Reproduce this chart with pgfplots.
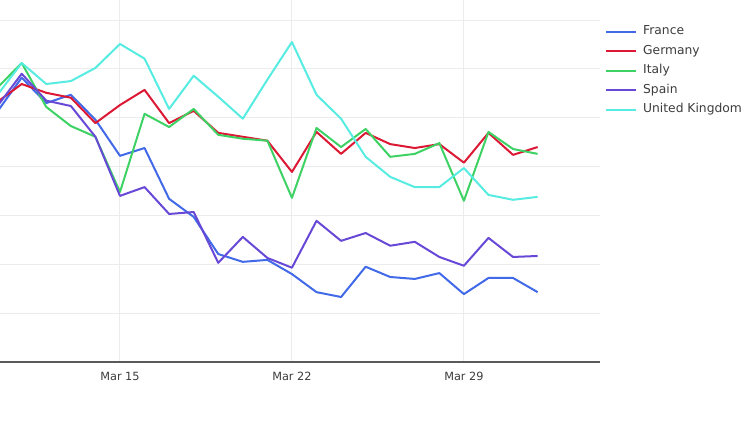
\documentclass[border=0pt]{standalone}
\usepackage{pgfplots}
\pgfplotsset{compat=1.18}
\usepackage{fontspec}
\setmainfont{DejaVu Sans}
\definecolor{cFr}{RGB}{65,105,232}
\definecolor{cDe}{RGB}{220,24,52}
\definecolor{cIt}{RGB}{62,210,100}
\definecolor{cEs}{RGB}{104,72,215}
\definecolor{cUk}{RGB}{86,236,226}
\definecolor{gridc}{RGB}{236,236,236}
\definecolor{axc}{RGB}{90,90,90}
\definecolor{tickc}{RGB}{60,60,60}
\begin{document}
\begin{tikzpicture}
\path[use as bounding box] (0pt,-60pt) rectangle (750pt,362pt);
\begin{axis}[
  at={(0pt,0pt)}, anchor=south west,
  scale only axis, width=600pt, height=362pt,
  xmin=10.116, xmax=34.54, ymin=0, ymax=7.41,
  xtick={15,22,29}, xticklabels={Mar 15,Mar 22,Mar 29},
  ytick={1,2,3,4,5,6,7}, yticklabels={},
  major tick length=0pt,
  xmajorgrids, ymajorgrids,
  grid style={gridc, line width=1pt},
  axis x line*=bottom, axis y line*=left,
  y axis line style={draw=none},
  x axis line style={axc, line width=1.6pt},
  xticklabel style={font=\fontsize{11.3}{13}\selectfont, text=tickc, yshift=-7pt},
  legend style={at={(1.0033,0.935)}, anchor=north west, draw=none, fill=none,
    font=\fontsize{12.3}{14}\selectfont, text=tickc,
    nodes={inner sep=0pt, text height=9pt, text depth=3pt},
    row sep=7.5pt, column sep=6pt},
  legend cell align=left,
  legend image code/.code={\draw[#1, line width=2pt] (0pt,0pt) -- (30pt,0pt);},
  every axis plot/.append style={line width=2pt, line join=round},
]
\addplot[cFr] coordinates {(10,5.12)(11,5.82)(12,5.30)(13,5.47)(14,4.96)(15,4.22)(16,4.38)(17,3.34)(18,2.97)(19,2.21)(20,2.05)(21,2.09)(22,1.80)(23,1.43)(24,1.33)(25,1.95)(26,1.74)(27,1.70)(28,1.82)(29,1.39)(30,1.72)(31,1.72)(32,1.43)};
\addlegendentry{France}
\addplot[cDe] coordinates {(10,5.32)(11,5.69)(12,5.51)(13,5.41)(14,4.89)(15,5.26)(16,5.57)(17,4.89)(18,5.14)(19,4.69)(20,4.61)(21,4.53)(22,3.89)(23,4.71)(24,4.26)(25,4.69)(26,4.46)(27,4.38)(28,4.46)(29,4.08)(30,4.69)(31,4.24)(32,4.40)};
\addlegendentry{Germany}
\addplot[cIt] coordinates {(10,5.61)(11,6.12)(12,5.22)(13,4.83)(14,4.61)(15,3.48)(16,5.08)(17,4.81)(18,5.18)(19,4.65)(20,4.57)(21,4.53)(22,3.36)(23,4.79)(24,4.40)(25,4.77)(26,4.20)(27,4.26)(28,4.48)(29,3.30)(30,4.71)(31,4.36)(32,4.26)};
\addlegendentry{Italy}
\addplot[cEs] coordinates {(10,5.23)(11,5.90)(12,5.35)(13,5.24)(14,4.61)(15,3.40)(16,3.58)(17,3.03)(18,3.07)(19,2.03)(20,2.56)(21,2.13)(22,1.93)(23,2.89)(24,2.48)(25,2.64)(26,2.38)(27,2.46)(28,2.15)(29,1.97)(30,2.54)(31,2.15)(32,2.17)};
\addlegendentry{Spain}
\addplot[cUk] coordinates {(10,5.46)(11,6.12)(12,5.69)(13,5.75)(14,6.02)(15,6.51)(16,6.21)(17,5.18)(18,5.86)(19,5.43)(20,4.98)(21,5.78)(22,6.55)(23,5.47)(24,4.98)(25,4.20)(26,3.79)(27,3.58)(28,3.58)(29,3.97)(30,3.42)(31,3.32)(32,3.38)};
\addlegendentry{United Kingdom}
\end{axis}
\end{tikzpicture}
\end{document}
